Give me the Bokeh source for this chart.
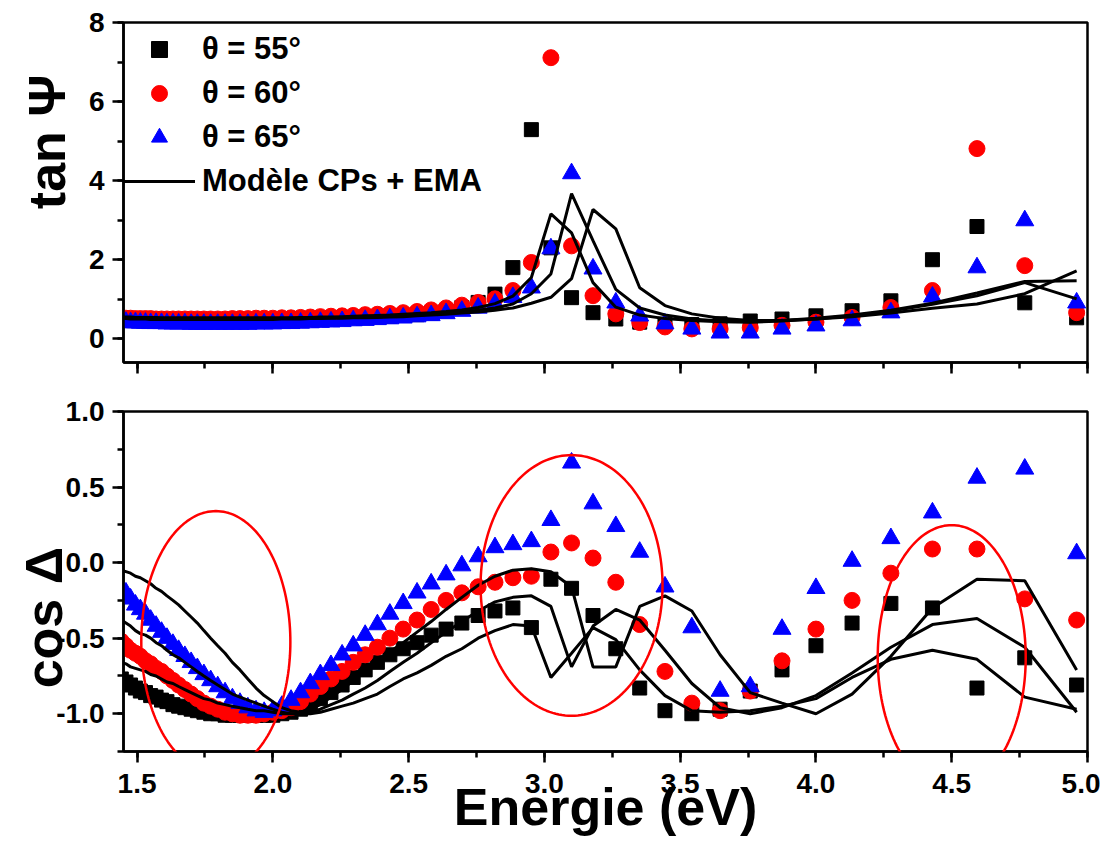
import numpy as np
from bokeh.plotting import figure
from bokeh.models import (ColumnDataSource, SingleIntervalTicker, Legend, LegendItem,
                          PolyAnnotation, Range1d, NumeralTickFormatter)
from bokeh.layouts import column
from bokeh.embed import file_html
from bokeh.resources import INLINE

# ---------------- data ----------------
energy = [1.442, 1.459, 1.476, 1.494, 1.512, 1.531, 1.550, 1.570, 1.590, 1.610,
          1.632, 1.653, 1.676, 1.699, 1.722, 1.746, 1.771, 1.797, 1.824, 1.851,
          1.879, 1.908, 1.938, 1.968, 2.000, 2.033, 2.067, 2.102, 2.138, 2.175,
          2.214, 2.255, 2.296, 2.340, 2.385, 2.431, 2.480, 2.531, 2.583, 2.638,
          2.696, 2.756, 2.818, 2.884, 2.952, 3.024, 3.100, 3.179, 3.263, 3.351,
          3.444, 3.543, 3.647, 3.758, 3.875, 4.000, 4.133, 4.276, 4.429, 4.593,
          4.769, 4.960]

tan55 = [0.47, 0.47, 0.46, 0.46, 0.46, 0.45, 0.45, 0.45, 0.44, 0.44,
         0.44, 0.44, 0.44, 0.44, 0.44, 0.44, 0.44, 0.44, 0.44, 0.45,
         0.45, 0.45, 0.46, 0.46, 0.46, 0.47, 0.47, 0.48, 0.49, 0.50,
         0.51, 0.52, 0.53, 0.54, 0.55, 0.57, 0.59, 0.61, 0.65, 0.70,
         0.79, 0.92, 1.13, 1.80, 5.29, 2.30, 1.04, 0.66, 0.50, 0.42,
         0.37, 0.36, 0.38, 0.45, 0.50, 0.58, 0.71, 0.96, 2.00, 2.84,
         0.91, 0.53]
tan60 = [0.52, 0.52, 0.52, 0.51, 0.51, 0.51, 0.51, 0.50, 0.50, 0.50,
         0.50, 0.50, 0.50, 0.50, 0.50, 0.50, 0.50, 0.50, 0.50, 0.51,
         0.51, 0.51, 0.52, 0.52, 0.52, 0.53, 0.53, 0.54, 0.55, 0.56,
         0.57, 0.58, 0.59, 0.61, 0.62, 0.64, 0.66, 0.69, 0.73, 0.78,
         0.85, 0.92, 1.01, 1.22, 1.93, 7.11, 2.35, 1.09, 0.63, 0.41,
         0.30, 0.25, 0.25, 0.28, 0.34, 0.42, 0.54, 0.79, 1.22, 4.81,
         1.85, 0.66]
tan65 = [0.42, 0.42, 0.41, 0.41, 0.40, 0.40, 0.39, 0.39, 0.39, 0.38,
         0.38, 0.38, 0.38, 0.37, 0.37, 0.37, 0.37, 0.37, 0.37, 0.37,
         0.37, 0.37, 0.38, 0.38, 0.38, 0.39, 0.39, 0.40, 0.41, 0.42,
         0.43, 0.44, 0.46, 0.47, 0.49, 0.51, 0.53, 0.56, 0.59, 0.64,
         0.70, 0.78, 0.88, 1.05, 1.29, 2.28, 4.18, 1.77, 0.91, 0.58,
         0.38, 0.25, 0.15, 0.15, 0.25, 0.33, 0.46, 0.66, 1.06, 1.80,
         2.99, 0.91]

tan_model55 = [0.55, 0.55, 0.55, 0.54, 0.54, 0.54, 0.54, 0.54, 0.53, 0.53,
               0.53, 0.53, 0.53, 0.53, 0.53, 0.53, 0.53, 0.53, 0.53, 0.53,
               0.53, 0.53, 0.53, 0.53, 0.53, 0.53, 0.53, 0.54, 0.54, 0.55,
               0.55, 0.56, 0.57, 0.58, 0.59, 0.60, 0.62, 0.64, 0.66, 0.69,
               0.73, 0.79, 0.89, 1.08, 1.55, 3.16, 2.68, 1.42, 0.80, 0.60,
               0.51, 0.46, 0.43, 0.42, 0.45, 0.50, 0.58, 0.70, 0.87, 1.09,
               1.42, 1.01]
tan_model60 = [0.53, 0.53, 0.53, 0.52, 0.52, 0.52, 0.52, 0.51, 0.51, 0.51,
               0.51, 0.51, 0.51, 0.51, 0.51, 0.51, 0.51, 0.51, 0.51, 0.51,
               0.51, 0.51, 0.51, 0.51, 0.51, 0.51, 0.52, 0.52, 0.52, 0.53,
               0.53, 0.54, 0.55, 0.55, 0.56, 0.57, 0.59, 0.60, 0.62, 0.65,
               0.68, 0.72, 0.78, 0.88, 1.14, 1.64, 3.67, 2.48, 1.25, 0.78,
               0.60, 0.50, 0.45, 0.43, 0.46, 0.52, 0.60, 0.72, 0.90, 1.16,
               1.45, 1.47]
tan_model65 = [0.51, 0.51, 0.50, 0.50, 0.50, 0.50, 0.49, 0.49, 0.49, 0.49,
               0.49, 0.49, 0.49, 0.49, 0.49, 0.49, 0.49, 0.49, 0.49, 0.49,
               0.49, 0.49, 0.49, 0.49, 0.49, 0.50, 0.50, 0.50, 0.51, 0.51,
               0.52, 0.52, 0.53, 0.53, 0.54, 0.55, 0.56, 0.58, 0.60, 0.62,
               0.65, 0.68, 0.72, 0.78, 0.90, 1.05, 1.52, 3.27, 2.78, 1.29,
               0.84, 0.63, 0.52, 0.46, 0.46, 0.50, 0.56, 0.65, 0.77, 0.88,
               1.14, 1.72]

cos55 = [-0.77, -0.79, -0.81, -0.83, -0.85, -0.86, -0.88, -0.89, -0.91, -0.92,
         -0.94, -0.95, -0.96, -0.97, -0.98, -0.99, -1.00, -1.00, -1.01, -1.01,
         -1.01, -1.01, -1.01, -1.01, -1.01, -1.00, -0.99, -0.97, -0.94, -0.90,
         -0.86, -0.81, -0.76, -0.71, -0.66, -0.61, -0.57, -0.53, -0.48, -0.44,
         -0.40, -0.35, -0.32, -0.30, -0.43, -0.11, -0.17, -0.35, -0.57, -0.83,
         -0.98, -1.00, -0.97, -0.85, -0.71, -0.55, -0.40, -0.27, -0.30, -0.83,
         -0.63, -0.81]
cos60 = [-0.52, -0.55, -0.58, -0.60, -0.62, -0.65, -0.67, -0.70, -0.72, -0.75,
         -0.78, -0.81, -0.84, -0.87, -0.90, -0.93, -0.95, -0.97, -0.99, -1.00,
         -1.01, -1.01, -1.01, -1.00, -0.99, -0.98, -0.96, -0.92, -0.87, -0.82,
         -0.77, -0.72, -0.66, -0.61, -0.56, -0.50, -0.44, -0.38, -0.31, -0.25,
         -0.20, -0.16, -0.13, -0.10, -0.09, 0.07, 0.13, 0.03, -0.13, -0.41,
         -0.72, -0.93, -0.98, -0.85, -0.65, -0.44, -0.25, -0.07, 0.09, 0.09,
         -0.24, -0.38]
cos65 = [-0.17, -0.20, -0.24, -0.28, -0.31, -0.34, -0.38, -0.42, -0.46, -0.50,
         -0.54, -0.58, -0.62, -0.66, -0.70, -0.74, -0.78, -0.82, -0.86, -0.90,
         -0.93, -0.96, -0.98, -0.99, -0.98, -0.95, -0.91, -0.86, -0.80, -0.74,
         -0.68, -0.61, -0.55, -0.48, -0.41, -0.34, -0.27, -0.20, -0.14, -0.08,
         -0.02, 0.04, 0.10, 0.12, 0.14, 0.28, 0.66, 0.39, 0.24, 0.07,
         -0.16, -0.43, -0.85, -0.82, -0.44, -0.17, 0.01, 0.16, 0.33, 0.56,
         0.62, 0.06]

cos_model65 = [-0.05, -0.06, -0.07, -0.09, -0.10, -0.12, -0.14, -0.17, -0.19, -0.22,
               -0.25, -0.28, -0.32, -0.36, -0.40, -0.45, -0.50, -0.55, -0.60, -0.66,
               -0.71, -0.77, -0.83, -0.88, -0.92, -0.96, -0.98, -0.99, -0.97, -0.94,
               -0.89, -0.84, -0.78, -0.72, -0.66, -0.59, -0.53, -0.46, -0.39, -0.31,
               -0.23, -0.15, -0.09, -0.05, -0.04, -0.06, -0.16, -0.69, -0.69, -0.29,
               -0.22, -0.32, -0.61, -0.86, -0.93, -1.00, -0.87, -0.62, -0.30, -0.11,
               -0.12, -0.71]
cos_model60 = [-0.38, -0.40, -0.42, -0.45, -0.47, -0.48, -0.50, -0.53, -0.55, -0.58,
               -0.61, -0.63, -0.66, -0.69, -0.72, -0.75, -0.78, -0.81, -0.84, -0.87,
               -0.89, -0.91, -0.93, -0.95, -0.97, -0.99, -1.00, -1.00, -0.99, -0.97,
               -0.94, -0.91, -0.87, -0.83, -0.78, -0.72, -0.66, -0.60, -0.53, -0.46,
               -0.39, -0.32, -0.26, -0.23, -0.22, -0.29, -0.69, -0.42, -0.31, -0.38,
               -0.58, -0.80, -0.96, -1.00, -0.96, -0.88, -0.73, -0.56, -0.41, -0.37,
               -0.56, -0.99]
cos_model55 = [-0.66, -0.67, -0.69, -0.70, -0.71, -0.72, -0.74, -0.75, -0.77, -0.79,
               -0.80, -0.82, -0.84, -0.86, -0.88, -0.90, -0.91, -0.93, -0.94, -0.95,
               -0.96, -0.97, -0.98, -0.98, -0.99, -1.00, -1.00, -1.00, -1.00, -0.99,
               -0.97, -0.95, -0.93, -0.90, -0.87, -0.82, -0.77, -0.73, -0.68, -0.62,
               -0.57, -0.50, -0.45, -0.41, -0.42, -0.76, -0.60, -0.43, -0.51, -0.71,
               -0.88, -0.98, -0.99, -0.98, -0.95, -0.90, -0.76, -0.64, -0.58, -0.64,
               -0.89, -0.97]

# highlighted regions (red ellipses): centre energy, centre cos, width (eV), height
ellipse_x = [1.790, 3.100, 4.500]
ellipse_y = [-0.524, -0.151, -0.627]
ellipse_w = [0.549, 0.670, 0.545]
ellipse_h = [1.730, 1.725, 1.750]

legend_labels = ["θ = 55°", "θ = 60°", "θ = 65°", "Modèle CPs + EMA"]

for arr in (tan55, tan60, tan65, tan_model55, tan_model60, tan_model65,
            cos55, cos60, cos65, cos_model55, cos_model60, cos_model65):
    assert len(arr) == len(energy)

# ---------------- styling helpers ----------------
FONT = "Liberation Sans"
NB = "\u00a0"


def style(p):
    p.xgrid.visible = False
    p.ygrid.visible = False
    p.outline_line_color = "black"
    p.outline_line_width = 2.5
    p.background_fill_color = "white"
    p.border_fill_color = "white"
    for ax in p.axis:
        ax.axis_line_width = 2.5
        ax.axis_line_color = "black"
        ax.major_tick_line_width = 2.5
        ax.minor_tick_line_width = 2.5
        ax.major_tick_in = 0
        ax.minor_tick_in = 0
        ax.major_tick_out = 11
        ax.minor_tick_out = 6
        ax.major_label_text_font = FONT
        ax.major_label_text_font_style = "bold"
        ax.major_label_text_font_size = "28px"
        ax.major_label_text_color = "black"
        ax.axis_label_text_font = FONT
        ax.axis_label_text_font_style = "bold"
        ax.axis_label_text_font_size = "52px"
        ax.axis_label_text_color = "black"


src = ColumnDataSource(dict(
    e=energy, t55=tan55, t60=tan60, t65=tan65,
    tm55=tan_model55, tm60=tan_model60, tm65=tan_model65,
    c55=cos55, c60=cos60, c65=cos65,
    cm55=cos_model55, cm60=cos_model60, cm65=cos_model65))

# ---------------- top panel: tan Psi ----------------
p1 = figure(width=1100, height=387, x_range=Range1d(1.45, 5.0), y_range=Range1d(-0.6, 8.0),
            output_backend="svg", toolbar_location=None,
            min_border_left=123, min_border_right=13, min_border_top=22, min_border_bottom=25)
style(p1)
p1.xaxis.ticker = SingleIntervalTicker(interval=0.5, num_minor_ticks=2)
p1.xaxis.major_label_text_font_size = "10px"
p1.xaxis.major_label_text_color = None
p1.xaxis.major_label_standoff = 0
p1.yaxis.ticker = SingleIntervalTicker(interval=2, num_minor_ticks=2)
p1.yaxis.formatter = NumeralTickFormatter(format="0")
p1.yaxis.axis_label = NB * 7 + "tan Ψ"
p1.yaxis.major_label_standoff = 8
p1.yaxis.axis_label_standoff = 10

r55 = p1.scatter("e", "t55", source=src, marker="square", size=14, color="black")
r60 = p1.scatter("e", "t60", source=src, marker="circle", size=16, color="red")
r65 = p1.scatter("e", "t65", source=src, marker="triangle", size=18, color="blue")
rl = p1.line("e", "tm55", source=src, line_color="black", line_width=3)
p1.line("e", "tm60", source=src, line_color="black", line_width=3)
p1.line("e", "tm65", source=src, line_color="black", line_width=3)

legend = Legend(items=[LegendItem(label=legend_labels[0], renderers=[r55]),
                       LegendItem(label=legend_labels[1], renderers=[r60]),
                       LegendItem(label=legend_labels[2], renderers=[r65]),
                       LegendItem(label=legend_labels[3], renderers=[rl])],
                location=(0, 161), glyph_width=72, glyph_height=40, label_height=40,
                spacing=4, padding=0, margin=0, label_standoff=7,
                border_line_color=None, background_fill_alpha=0,
                label_text_font=FONT, label_text_font_style="bold",
                label_text_font_size="31px", label_text_color="black")
p1.add_layout(legend)

# ---------------- bottom panel: cos Delta ----------------
p2 = figure(width=1100, height=459, x_range=p1.x_range, y_range=Range1d(-1.25, 1.0),
            output_backend="svg", toolbar_location=None,
            min_border_left=123, min_border_right=13, min_border_top=24, min_border_bottom=95)
style(p2)
p2.xaxis.ticker = SingleIntervalTicker(interval=0.5, num_minor_ticks=2)
p2.xaxis.formatter = NumeralTickFormatter(format="0.0")
p2.xaxis.axis_label = "Energie (eV)"
p2.xaxis.major_label_standoff = 11
p2.xaxis.axis_label_standoff = -18
p2.yaxis.ticker = SingleIntervalTicker(interval=0.5, num_minor_ticks=2)
p2.yaxis.formatter = NumeralTickFormatter(format="0.0")
p2.yaxis.axis_label = "cos Δ" + NB * 5
p2.yaxis.major_label_standoff = 8
p2.yaxis.axis_label_standoff = -20

p2.scatter("e", "c55", source=src, marker="square", size=14, color="black")
p2.scatter("e", "c60", source=src, marker="circle", size=16, color="red")
p2.scatter("e", "c65", source=src, marker="triangle", size=18, color="blue")
p2.line("e", "cm55", source=src, line_color="black", line_width=3)
p2.line("e", "cm60", source=src, line_color="black", line_width=3)
p2.line("e", "cm65", source=src, line_color="black", line_width=3)

t = np.linspace(0, 2 * np.pi, 181)
for cx, cy, w, h in zip(ellipse_x, ellipse_y, ellipse_w, ellipse_h):
    xs = (cx + 0.5 * w * np.cos(t)).tolist()
    ys = (cy + 0.5 * h * np.sin(t)).tolist()
    p2.add_layout(PolyAnnotation(xs=xs, ys=ys, xs_units="data", ys_units="data",
                                 fill_alpha=0, fill_color=None,
                                 line_color="red", line_alpha=1.0, line_width=2.5))

layout = column(p1, p2, spacing=0)
open("out.html", "w").write(file_html(layout, INLINE))
